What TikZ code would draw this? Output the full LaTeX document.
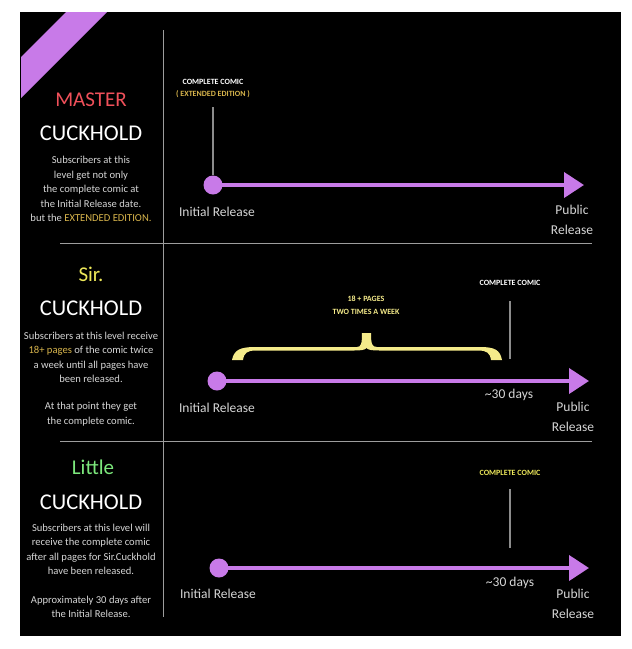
\documentclass[tikz,border=0pt]{standalone}
\usepackage{fontspec}
\setmainfont{Carlito}
\usetikzlibrary{arrows.meta}
\definecolor{bg}{HTML}{000000}
\definecolor{ribbon}{HTML}{C87AE8}
\definecolor{tl}{HTML}{C87AE8}
\definecolor{masterred}{HTML}{F0505A}
\definecolor{siryellow}{HTML}{EDE85A}
\definecolor{littlegreen}{HTML}{7CE87C}
\definecolor{gold}{HTML}{D8B54C}
\definecolor{brace}{HTML}{F5EB8A}
\definecolor{bodygray}{HTML}{D6D6D6}
\definecolor{linegray}{HTML}{8C8C8C}
\tikzset{
  rank/.style={font=\fontsize{21}{23}\selectfont, inner sep=0pt, anchor=center},
  cuck/.style={text=white, font=\fontsize{22.5}{24}\selectfont, inner sep=0pt},
  body/.style={text=bodygray, font=\fontsize{10.6}{14.5}\selectfont, align=center, inner sep=0pt},
  caps/.style={font=\bfseries\fontsize{8}{12}\selectfont, inner sep=0pt},
  lbl/.style={text=bodygray, font=\fontsize{13.5}{20.5}\selectfont, inner sep=0pt, align=center},
  dot/.style={circle, fill=tl, minimum size=19pt, inner sep=0pt},
  timeline/.style={draw=tl, line width=4pt, -{Triangle[length=20pt,width=25pt]}},
  marker/.style={draw=linegray, line width=1.2pt},
  sep/.style={draw=linegray!85!white, line width=1pt}
}
\begin{document}
\begin{tikzpicture}[x=1pt,y=-1pt]
\useasboundingbox (0,0) rectangle (632,649);
\fill[white] (0,0) rectangle (632,649);
\fill[bg] (20,12) rectangle (621,636);
% ribbon
\fill[ribbon] (66,12) -- (107,12) -- (21,98) -- (21,57) -- cycle;
% dividers
\coordinate (vtop) at (163,30);
\coordinate (vbot) at (163,617);
\draw[sep] (vtop) -- (vbot);
\coordinate (s1a) at (60,243);
\coordinate (s1b) at (592,243);
\draw[sep] (s1a) -- (s1b);
\coordinate (s2a) at (60,441);
\coordinate (s2b) at (592,441);
\draw[sep] (s2a) -- (s2b);

% ===== Section 1 =====
\node[rank, text=masterred] (m1) at (91,100) {MASTER};
\node[cuck] (m2) at (91,133) {CUCKHOLD};
\node[body] (m3) at (91,189) {Subscribers at this\\level get not only\\the complete comic at\\the Initial Release date.\\but the \textcolor{gold}{EXTENDED EDITION.}};
\node[dot] (c1) at (213,185) {};
\coordinate (e1) at (584,185);
\draw[timeline] (c1.center) -- (e1);
\node[caps, text=white] (cc1) at (213,82) {COMPLETE COMIC};
\node[caps, text=gold] (ee1) at (213,94) {( EXTENDED EDITION )};
\coordinate (k1t) at (213,107);
\draw[marker] (k1t) -- (c1.north);
\node[lbl] (ir1) at (217,212) {Initial Release};
\node[lbl] (pr1) at (572,220) {Public\\Release};

% ===== Section 2 =====
\node[rank, text=siryellow] (r1) at (91,274) {Sir.};
\node[cuck] (r2) at (91,308) {CUCKHOLD};
\node[body] (r3) at (91,357.5) {Subscribers at this level receive\\\textcolor{gold}{18+ pages} of the comic twice\\a week until all pages have\\been released.};
\node[body] (r4) at (91,414) {At that point they get\\the complete comic.};
\node[dot] (c2) at (217,381) {};
\coordinate (e2) at (589,381);
\draw[timeline] (c2.center) -- (e2);
\node[caps, text=white] (cc2) at (510,283) {COMPLETE COMIC};
\coordinate (k2t) at (510,301);
\coordinate (k2b) at (510,359);
\draw[marker] (k2t) -- (k2b);
\node[caps, text=brace, align=center, font=\bfseries\fontsize{8}{13}\selectfont] (bt) at (366,305) {18 + PAGES\\TWO TIMES A WEEK};
\fill[brace] (232,360) .. controls (234,350) and (240,347) .. (255,347) -- (357,347)
  .. controls (361,347) and (362,344) .. (362,333) -- (371,333)
  .. controls (371,344) and (372,347) .. (377,347) -- (480,347)
  .. controls (495,347) and (500,350) .. (502,360) -- (491,360)
  .. controls (490,353) and (487,350.5) .. (478,350.5) -- (380,350.5)
  .. controls (372,350.5) and (368,350) .. (366.5,348)
  .. controls (365,350) and (361,350.5) .. (354,350.5) -- (256,350.5)
  .. controls (247,350.5) and (244,353) .. (243,360) -- cycle;
\node[lbl] (d2) at (509,395) {\textasciitilde30 days};
\node[lbl] (ir2) at (217,408) {Initial Release};
\node[lbl] (pr2) at (573,417) {Public\\Release};

% ===== Section 3 =====
\node[rank, text=littlegreen] (l1) at (93,467) {Little};
\node[cuck] (l2) at (91,502) {CUCKHOLD};
\node[body] (l3) at (91,549.5) {Subscribers at this level will\\receive the complete comic\\after all pages for Sir.Cuckhold\\have been released.};
\node[body] (l4) at (91,607) {Approximately 30 days after\\the Initial Release.};
\node[dot] (c3) at (219,568) {};
\coordinate (e3) at (589,568);
\draw[timeline] (c3.center) -- (e3);
\node[caps, text=siryellow] (cc3) at (510,473) {COMPLETE COMIC};
\coordinate (k3t) at (510,489);
\coordinate (k3b) at (510,548);
\draw[marker] (k3t) -- (k3b);
\node[lbl] (d3) at (510,583) {\textasciitilde30 days};
\node[lbl] (ir3) at (218,594) {Initial Release};
\node[lbl] (pr3) at (573,604) {Public\\Release};
\end{tikzpicture}
\end{document}
